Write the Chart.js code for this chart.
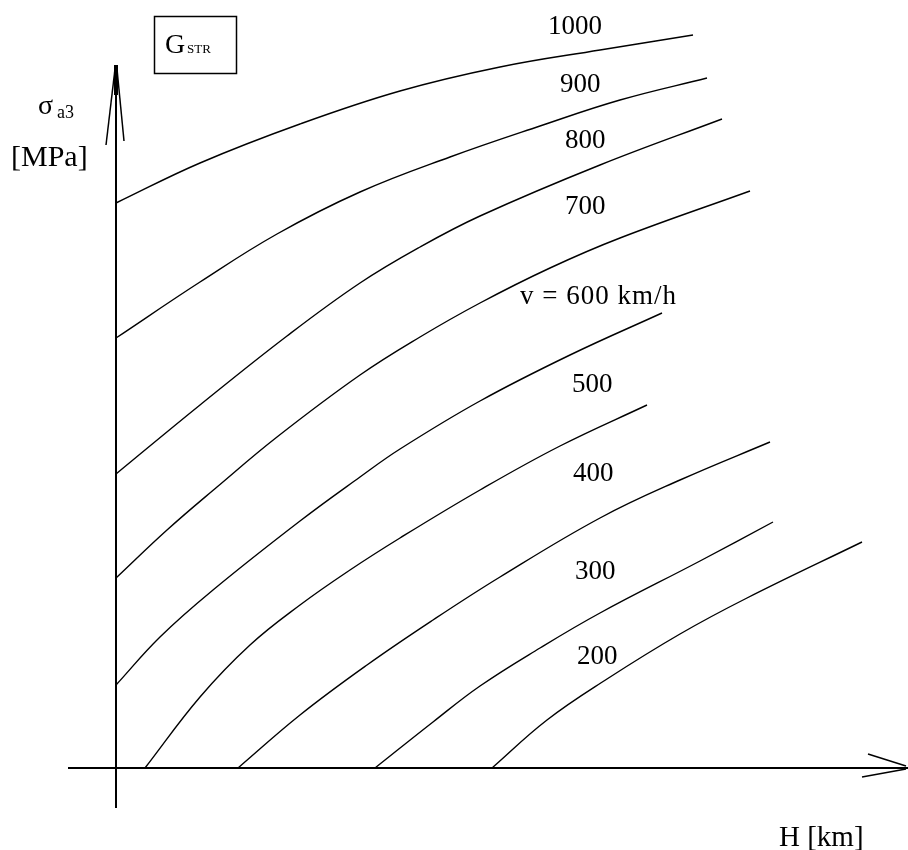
<!DOCTYPE html>
<html>
<head>
<meta charset="utf-8">
<style>
  html, body { margin: 0; padding: 0; background: #fff; }
  #wrap { width: 908px; height: 850px; position: relative; }
</style>
<script src="https://cdn.jsdelivr.net/npm/chart.js@4/dist/chart.umd.min.js"></script>
</head>
<body>
<div id="wrap"><canvas id="stress" width="908" height="850"></canvas></div>
<script>
// flight speed per curve, km/h
const speeds = [1000, 900, 800, 700, 600, 500, 400, 300, 200];
const speedLabels = ['1000', '900', '800', '700', 'v = 600 km/h', '500', '400', '300', '200'];

// altitude H and stress sigma for each speed curve
const h1000 = [0, 8.4, 18.4, 28.4, 38.4, 48.4, 57.7];
const s1000 = [56.5, 60.5, 64.4, 67.7, 70.1, 71.8, 73.3];
const h900 = [0, 8.4, 16.1, 24.4, 33.4, 42.4, 50.4, 59.1];
const s900 = [43.0, 48.6, 53.4, 57.6, 61.1, 64.2, 66.8, 69.0];
const h800 = [0, 8.4, 17.1, 24.4, 30.4, 36.4, 48.4, 60.6];
const s800 = [29.4, 36.3, 43.2, 48.5, 52.1, 55.2, 60.3, 64.9];
const h700 = [0, 5.1, 10.1, 16.1, 24.4, 30.4, 36.4, 43.4, 50.4, 63.4];
const s700 = [19.0, 23.8, 28.1, 33.1, 39.3, 43.1, 46.5, 50.0, 53.0, 57.7];
const h600 = [0, 4.4, 9.7, 18.4, 24.4, 28.4, 36.4, 45.4, 54.6];
const s600 = [8.3, 13.1, 17.8, 24.7, 29.1, 31.9, 36.7, 41.3, 45.5];
const h500 = [2.9, 8.4, 13.4, 18.4, 23.4, 28.4, 36.4, 44.4, 53.1];
const s500 = [0, 7.1, 12.3, 16.3, 19.8, 23.0, 27.8, 32.2, 36.3];
const h400 = [12.2, 18.4, 25.1, 31.7, 38.4, 48.4, 56.4, 65.4];
const s400 = [0, 5.3, 10.3, 14.8, 19.1, 25.0, 28.8, 32.6];
const h300 = [25.9, 31.7, 36.4, 42.4, 48.4, 58.4, 65.7];
const s300 = [0, 4.6, 8.2, 12.0, 15.5, 20.7, 24.6];
const h200 = [37.6, 43.1, 49.1, 56.4, 63.1, 74.6];
const s200 = [0, 4.8, 8.9, 13.4, 17.0, 22.6];

const curvesH = [h1000, h900, h800, h700, h600, h500, h400, h300, h200];
const curvesS = [s1000, s900, s800, s700, s600, s500, s400, s300, s200];

// where each speed label sits (left edge, middle), in axis units
const labelAt = [
  [43.2, 74.1], [44.4, 68.3], [44.9, 62.7], [44.9, 56.1], [40.4, 47.1],
  [45.6, 38.3], [45.7, 29.4], [45.9, 19.6], [46.1, 11.1]
];

const SERIF = '"Liberation Serif", "Times New Roman", serif';

const datasets = speeds.map((v, i) => ({
  label: String(v),
  data: curvesH[i].map((h, j) => ({ x: h, y: curvesS[i][j] })),
  borderColor: '#000',
  borderWidth: 1.4,
  pointRadius: 0,
  fill: false,
  tension: 0.4
}));

function line(ctx, x1, y1, x2, y2, w) {
  ctx.lineWidth = w;
  ctx.beginPath();
  ctx.moveTo(x1, y1);
  ctx.lineTo(x2, y2);
  ctx.stroke();
}

// axes with open arrow heads, curve labels and titles
const sketch = {
  id: 'sketch',
  afterDatasetsDraw(chart) {
    const ctx = chart.ctx;
    const xs = chart.scales.x, ys = chart.scales.y;
    const x0 = xs.getPixelForValue(0);
    const y0 = ys.getPixelForValue(0);
    ctx.save();
    ctx.strokeStyle = '#000';
    ctx.lineCap = 'butt';

    // vertical axis
    const yTop = ys.getPixelForValue(70.3);
    line(ctx, x0, ys.getPixelForValue(-4), x0, yTop, 2);
    line(ctx, x0, yTop, x0, yTop + 30, 4);
    line(ctx, x0 - 1, yTop + 4, x0 - 10, yTop + 80, 1.5);
    line(ctx, x0 + 1, yTop + 4, x0 + 8, yTop + 76, 1.5);

    // horizontal axis
    const xEnd = xs.getPixelForValue(79.2);
    line(ctx, xs.getPixelForValue(-4.8), y0, xEnd, y0, 2);
    line(ctx, xEnd - 2, y0 - 2, xEnd - 40, y0 - 14, 1.5);
    line(ctx, xEnd - 2, y0 + 1, xEnd - 46, y0 + 9, 1.5);

    ctx.fillStyle = '#000';
    ctx.textBaseline = 'middle';
    ctx.textAlign = 'left';
    ctx.font = '27px ' + SERIF;
    speedLabels.forEach((t, i) => {
      ctx.letterSpacing = t.length > 4 ? '1px' : '0px';
      ctx.fillText(t, xs.getPixelForValue(labelAt[i][0]), ys.getPixelForValue(labelAt[i][1]));
    });
    ctx.letterSpacing = '0px';

    ctx.textBaseline = 'alphabetic';
    // sigma_a3 [MPa]
    ctx.font = '28px ' + SERIF;
    ctx.fillText('σ', 38, 114);
    ctx.font = '18px ' + SERIF;
    ctx.fillText('a3', 57, 118);
    ctx.font = '30px ' + SERIF;
    ctx.fillText('[MPa]', 11, 166);

    // H [km]
    ctx.font = '29px ' + SERIF;
    ctx.fillText('H [km]', 779, 846);

    // boxed G_STR
    ctx.lineWidth = 1.5;
    ctx.strokeRect(154.5, 16.5, 82, 57);
    ctx.font = '28px ' + SERIF;
    ctx.fillText('G', 165, 53);
    ctx.font = '13px ' + SERIF;
    ctx.fillText('STR', 187, 53);

    ctx.restore();
  }
};

new Chart(document.getElementById('stress'), {
  type: 'line',
  data: { datasets: datasets },
  options: {
    responsive: false,
    animation: false,
    layout: { padding: 0 },
    plugins: { legend: { display: false }, tooltip: { enabled: false } },
    scales: {
      x: { type: 'linear', min: -11.6, max: 79.2, display: false },
      y: { type: 'linear', min: -8.2, max: 76.8, display: false }
    }
  },
  plugins: [sketch]
});
</script>
</body>
</html>
